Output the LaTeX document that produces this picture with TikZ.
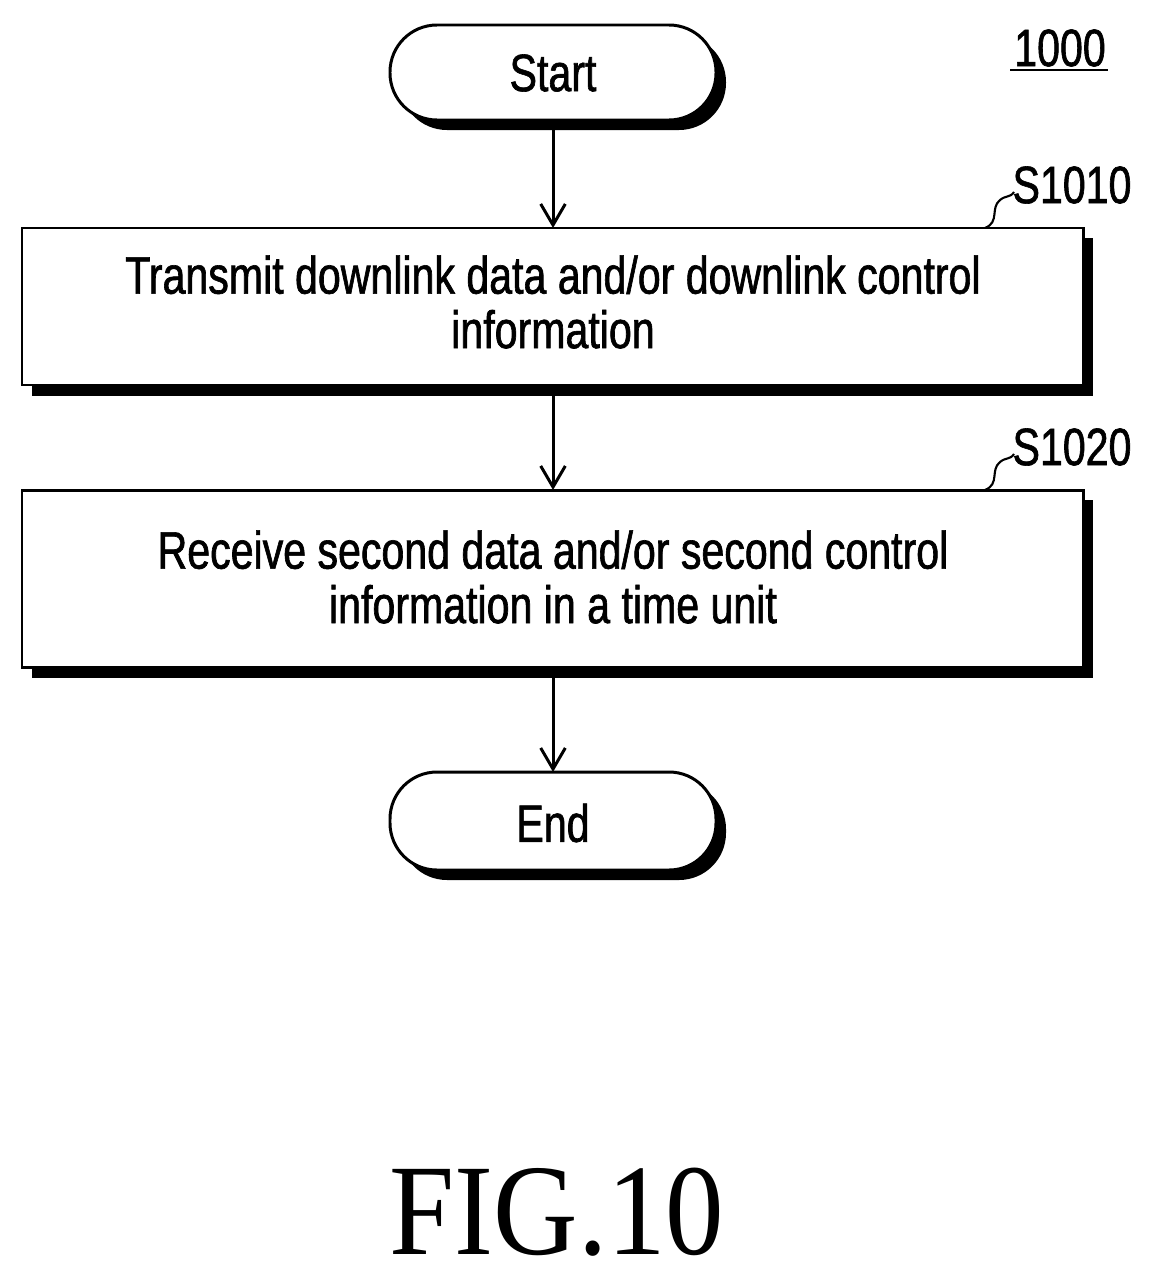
\documentclass[tikz,border=0pt]{standalone}
\usetikzlibrary{arrows.meta}
\usepackage{fontspec}
\setmainfont{Liberation Sans}[FakeStretch=0.78,FakeBold=1.2]
\newfontfamily\figfont{Liberation Serif}[FakeStretch=0.9]
\begin{document}
\begin{tikzpicture}[x=0.02cm,y=-0.02cm,
  ln/.style={line width=1.7pt},
  box/.style={ln,fill=white},
  rc/.style={rounded corners=0.94cm},
  txt/.style={font=\fontsize{30}{31}\selectfont,align=center},
  arr/.style={ln,-{Straight Barb[length=12pt,width=14pt,line width=1.7pt]}}]
\useasboundingbox (0,0) rectangle (1151,1278);
% shadows
\fill[rc] (400,35) rectangle (726,130);
\fill (32,238) rectangle (1093,396);
\fill (32,500) rectangle (1093,678);
\fill[rc] (400,782) rectangle (726,880);
% shapes
\draw[box,rc] (390,25) rectangle (716,120);
\node[txt] (start) at (553,73) {Start};
\draw[box] (22,228) rectangle (1083,385);
\node[txt] (b1) at (553,302) {Transmit downlink data and/or downlink control\\information};
\draw[box] (22,490) rectangle (1083,667);
\node[txt] (b2) at (553,577) {Receive second data and/or second control\\information in a time unit};
\draw[box,rc] (390,772) rectangle (716,870);
\node[txt] (end) at (553,823) {End};
\coordinate (s1) at (553,120); \coordinate (t1) at (553,228);
\coordinate (s2) at (553,385); \coordinate (t2) at (553,490);
\coordinate (s3) at (553,667); \coordinate (t3) at (553,772);
\draw[arr] (s1) -- (t1);
\draw[arr] (s2) -- (t2);
\draw[arr] (s3) -- (t3);
% labels
\node[txt] (l1) at (1072,185) {S1010};
\node[txt] (l2) at (1072,447) {S1020};
\draw[line width=1.2pt] (985,228) .. controls (1000,222) and (990,208) .. (1000,200) .. controls (1006,195) and (1010,198) .. (1014,192);
\draw[line width=1.2pt] (985,490) .. controls (1000,484) and (990,470) .. (1000,462) .. controls (1006,457) and (1010,460) .. (1014,454);
\node[txt] (num) at (1060,48) {1000};
\draw[ln] (1010,70) -- (1108,70);
\node[font=\figfont\fontsize{74}{76}\selectfont] (fig) at (557,1212) {FIG.10};
\end{tikzpicture}
\end{document}
